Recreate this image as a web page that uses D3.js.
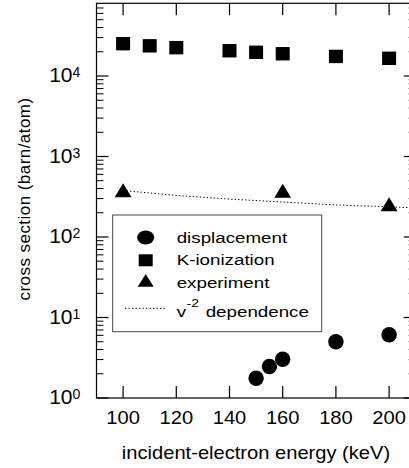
<!DOCTYPE html>
<html><head><meta charset="utf-8">
<script src="https://cdn.jsdelivr.net/npm/d3@7"></script>
<style>html,body{margin:0;padding:0;background:#fff;}svg{display:block;}text{font-family:"Liberation Sans",Arial,sans-serif;fill:#000;}</style>
</head><body>
<script>
// ---- data ----
const energyK = [100, 110, 120, 140, 150, 160, 180, 200];
const kIonization = [25200, 23700, 22500, 20600, 19700, 18900, 17500, 16600];
const energyDisp = [150, 155, 160, 180, 200];
const displacement = [1.76, 2.46, 3.03, 5.0, 6.1];
const energyExp = [100, 160, 200];
const experiment = [380, 375, 255];
const energyV2 = [100, 120, 140, 160, 180, 200, 210];
const v2Dependence = [378, 328, 296, 272, 250, 237, 230];
const xTicks = [100, 120, 140, 160, 180, 200];
const yDecades = [0, 1, 2, 3, 4];
const legendLabels = ["displacement", "K-ionization", "experiment", "dependence"];

(function () {
const W = 409, H = 468;
const svg = d3.select("body").append("svg").attr("width", W).attr("height", H);

const x = d3.scaleLinear().domain([90, 210]).range([96.5, 415.7]);
const y = d3.scaleLog().domain([1, 80000]).range([398, 398 - 80.5 * Math.log10(80000)]);
const pL = x.range()[0], pR = x.range()[1], pB = y.range()[0], pT = y.range()[1];

// helper: horizontally stretched text
function stext(g, tx, ty, sx, size, str, anchor) {
  return g.append("text").attr("transform", `translate(${tx},${ty}) scale(${sx},1)`)
    .attr("text-anchor", anchor || "start").style("font-size", size + "px").text(str);
}

// frame
svg.append("rect").attr("x", pL).attr("y", pT).attr("width", pR - pL).attr("height", pB - pT)
  .attr("fill", "none").attr("stroke", "#000").attr("stroke-width", 1.2);

// x ticks (bottom & top, inward)
const tg = svg.append("g").attr("stroke", "#000").attr("stroke-width", 1.2);
xTicks.forEach(v => {
  tg.append("line").attr("x1", x(v)).attr("x2", x(v)).attr("y1", pB).attr("y2", pB - 12);
  tg.append("line").attr("x1", x(v)).attr("x2", x(v)).attr("y1", pT).attr("y2", pT + 12);
});
// y ticks
const yMax = y.domain()[1];
yDecades.forEach(d => {
  const base = Math.pow(10, d);
  tg.append("line").attr("x1", pL).attr("x2", pL + 12).attr("y1", y(base)).attr("y2", y(base));
  tg.append("line").attr("x1", pR).attr("x2", pR - 12).attr("y1", y(base)).attr("y2", y(base));
  for (let m = 2; m <= 9; m++) {
    const v = base * m;
    if (v >= yMax) break;
    tg.append("line").attr("x1", pL).attr("x2", pL + 7).attr("y1", y(v)).attr("y2", y(v)).attr("stroke-width", 1);
    tg.append("line").attr("x1", pR).attr("x2", pR - 7).attr("y1", y(v)).attr("y2", y(v)).attr("stroke-width", 1);
  }
});

// x tick labels
xTicks.forEach(v => { stext(svg, x(v), 423.5, 1.15, 17.5, v, "middle"); });
// y tick labels
yDecades.forEach(d => {
  const yy = y(Math.pow(10, d));
  svg.append("text").attr("x", 72.5).attr("y", yy + 6.3).attr("text-anchor", "end")
    .style("font-size", "21px").text("10");
  svg.append("text").attr("x", 72.6).attr("y", yy + 1.3).style("font-size", "14px").text(d);
});

// axis titles
stext(svg, 256, 459.3, 1.15, 17.5, "incident-electron energy (keV)", "middle");
svg.append("text").attr("transform", "translate(30,199) rotate(-90)").attr("text-anchor", "middle")
  .style("font-size", "17px").style("letter-spacing", "0.45px").text("cross section (barn/atom)");

// v^-2 line
const line = d3.line().x(d => x(d[0])).y(d => y(d[1]));
svg.append("path").datum(energyV2.map((e, i) => [e, v2Dependence[i]]))
  .attr("d", line).attr("fill", "none").attr("stroke", "#000").attr("stroke-width", 1)
  .attr("stroke-dasharray", "1.3,2.2");

// squares
svg.append("g").selectAll("rect").data(energyK.map((e, i) => [e, kIonization[i]])).join("rect")
  .attr("x", d => x(d[0]) - 7).attr("y", d => y(d[1]) - 6.7).attr("width", 14).attr("height", 13.4).attr("fill", "#000");
// circles
svg.append("g").selectAll("circle").data(energyDisp.map((e, i) => [e, displacement[i]])).join("circle")
  .attr("cx", d => x(d[0])).attr("cy", d => y(d[1])).attr("r", 7.7).attr("fill", "#000");
// triangles
const tri = (cx, cy, hw, hh) => `M${cx},${cy - hh}L${cx + hw},${cy + hh}L${cx - hw},${cy + hh}Z`;
svg.append("g").selectAll("path").data(energyExp.map((e, i) => [e, experiment[i]])).join("path")
  .attr("d", d => tri(x(d[0]), y(d[1]), 8.4, 7)).attr("fill", "#000");

// legend
const lg = svg.append("g");
lg.append("rect").attr("x", 112.7).attr("y", 215).attr("width", 209).attr("height", 116.7)
  .attr("fill", "#fff").attr("stroke", "#444").attr("stroke-width", 1);
const sx = 145.7, tx = 176.7;
lg.append("ellipse").attr("cx", sx).attr("cy", 237.5).attr("rx", 8.5).attr("ry", 7).attr("fill", "#000");
lg.append("rect").attr("x", sx - 7).attr("y", 254.3).attr("width", 14).attr("height", 12).attr("fill", "#000");
lg.append("path").attr("d", tri(sx, 280.4, 8, 6.3)).attr("fill", "#000");
lg.append("line").attr("x1", 125).attr("x2", 167).attr("y1", 308.3).attr("y2", 308.3)
  .attr("stroke", "#000").attr("stroke-width", 1).attr("stroke-dasharray", "1.3,2.2");
const rowsY = [243.3, 265.3, 287.7];
[0, 1, 2].forEach(i => { stext(lg, tx, rowsY[i], 1.21, 15.5, legendLabels[i]); });
stext(lg, tx, 316.7, 1.21, 15.5, "v");
stext(lg, 186.5, 307, 1.21, 11.5, "-2");
stext(lg, 205.7, 316.7, 1.21, 15.5, legendLabels[3]);
})();
</script>
</body></html>
